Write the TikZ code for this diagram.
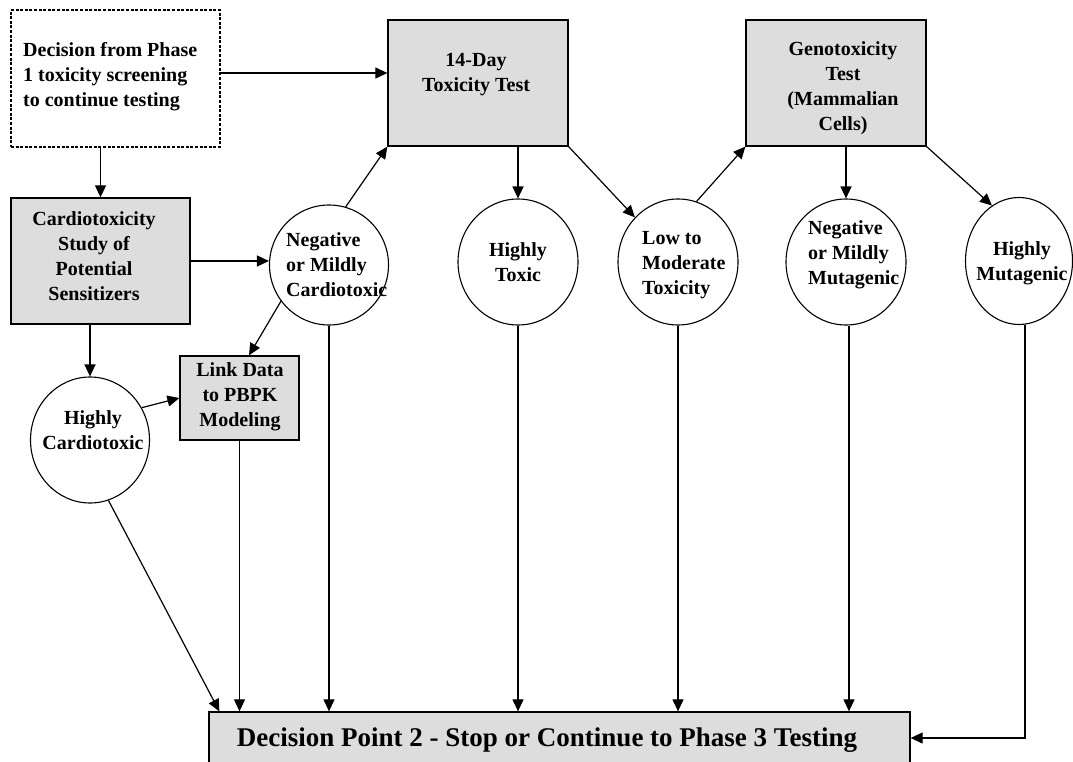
\documentclass[tikz,border=0pt]{standalone}
\usepackage{fontspec}
\setmainfont{Liberation Serif}
\usetikzlibrary{shapes.geometric,arrows.meta}
\definecolor{boxgray}{RGB}{221,221,221}
\tikzset{
  graybox/.style={draw, fill=boxgray, rectangle, line width=1.3pt, inner sep=0pt},
  dashbox/.style={draw, rectangle, line width=1.3pt, inner sep=0pt, dash pattern=on 3pt off 1.6pt},
  circ/.style={draw, ellipse, line width=1.1pt, inner sep=0pt},
  txt/.style={font=\bfseries\fontsize{20}{25}\selectfont, inner sep=0pt, align=center},
  ltxt/.style={font=\bfseries\fontsize{20}{25}\selectfont, inner sep=0pt, align=left, anchor=west},
  arr/.style={line width=1.2pt, -{Triangle[length=12pt,width=11pt]}}
}
\begin{document}
\begin{tikzpicture}[x=1pt,y=-1pt]
\useasboundingbox[fill=white] (0,0) rectangle (1073,762);
% boxes
\node[dashbox, minimum width=209pt, minimum height=137pt] (top) at (115.5,78.5) {};
\node[ltxt] (toptxt) at (23,77) {Decision from Phase\\1 toxicity screening\\to continue testing};
\node[graybox, minimum width=180pt, minimum height=126pt] (tox) at (478,83) {};
\node[txt] (toxtxt) at (476,75) {14-Day\\Toxicity Test};
\node[graybox, minimum width=180pt, minimum height=126pt] (geno) at (836,83) {};
\node[txt] (genotxt) at (843,88) {Genotoxicity\\Test\\(Mammalian\\Cells)};
\node[graybox, minimum width=179pt, minimum height=126pt] (cardio) at (100.5,261) {};
\node[txt] (cardiotxt) at (94,256) {Cardiotoxicity\\Study of\\Potential\\Sensitizers};
\node[graybox, minimum width=119pt, minimum height=84pt] (link) at (239.5,398) {};
\node[txt] (linktxt) at (240,397) {Link Data\\to PBPK\\Modeling};
\node[graybox, minimum width=701pt, minimum height=52pt] (bottom) at (559.5,738) {};
\node[font=\bfseries\fontsize{27}{32}\selectfont, inner sep=0pt] (bottomtxt) at (547,740) {Decision Point 2 - Stop or Continue to Phase 3 Testing};
% circles
\node[circ, minimum width=119pt, minimum height=120pt] (negc) at (329,265) {};
\node[ltxt] (negctxt) at (286,265) {Negative\\or Mildly\\Cardiotoxic};
\node[circ, minimum width=120pt, minimum height=126pt] (htox) at (518,262) {};
\node[txt] (htoxtxt) at (518,262) {Highly\\Toxic};
\node[circ, minimum width=120pt, minimum height=126pt] (lowmod) at (678,262) {};
\node[ltxt] (lowmodtxt) at (642,265) {Low to\\Moderate\\Toxicity};
\node[circ, minimum width=120pt, minimum height=126pt] (nmut) at (846,262) {};
\node[ltxt] (nmuttxt) at (808,255) {Negative\\or Mildly\\Mutagenic};
\node[circ, minimum width=107pt, minimum height=127pt] (hmut) at (1019,261) {};
\node[txt] (hmuttxt) at (1022,263) {Highly\\Mutagenic};
\node[circ, minimum width=119pt, minimum height=126pt] (hcardio) at (90,440) {};
\node[txt] (hcardiotxt) at (93,430) {Highly\\Cardiotoxic};
% connectors
\path ([yshift=5.5pt]top.east) coordinate (a1);
\draw[arr] (a1) -- (a1 -| tox.west);
\draw[arr] (top.south -| cardio.north) -- (cardio.north);
\draw[arr] (cardio.east) -- (cardio.east -| negc.west);
\draw[arr] (cardio.south -| hcardio.north) -- (hcardio.north);
\draw[arr] (hcardio.32) -- (link.west);
\draw[arr] (negc.217) -- ([xshift=9.5pt]link.north);
\draw[arr] (negc.74) -- (tox.south west);
\draw[arr] (tox.south -| htox.north) -- (htox.north);
\draw[arr] (tox.south east) -- (lowmod.134);
\draw[arr] (lowmod.73) -- (geno.south west);
\draw[arr] (geno.south -| nmut.north) -- (nmut.north);
\draw[arr] (geno.south east) -- (hmut.116);
\draw[arr] (link.south) -- (link.south |- bottom.north);
\draw[arr] (hcardio.287) -- ([xshift=11pt]bottom.north west);
\draw[arr] (negc.south) -- (negc.south |- bottom.north);
\draw[arr] (htox.south) -- (htox.south |- bottom.north);
\draw[arr] (lowmod.south) -- (lowmod.south |- bottom.north);
\draw[arr] ([xshift=3pt]nmut.south) -- ([xshift=3pt]nmut.south |- bottom.north);
\draw[arr] ([xshift=6pt]hmut.south) |- (bottom.east);
\end{tikzpicture}
\end{document}
